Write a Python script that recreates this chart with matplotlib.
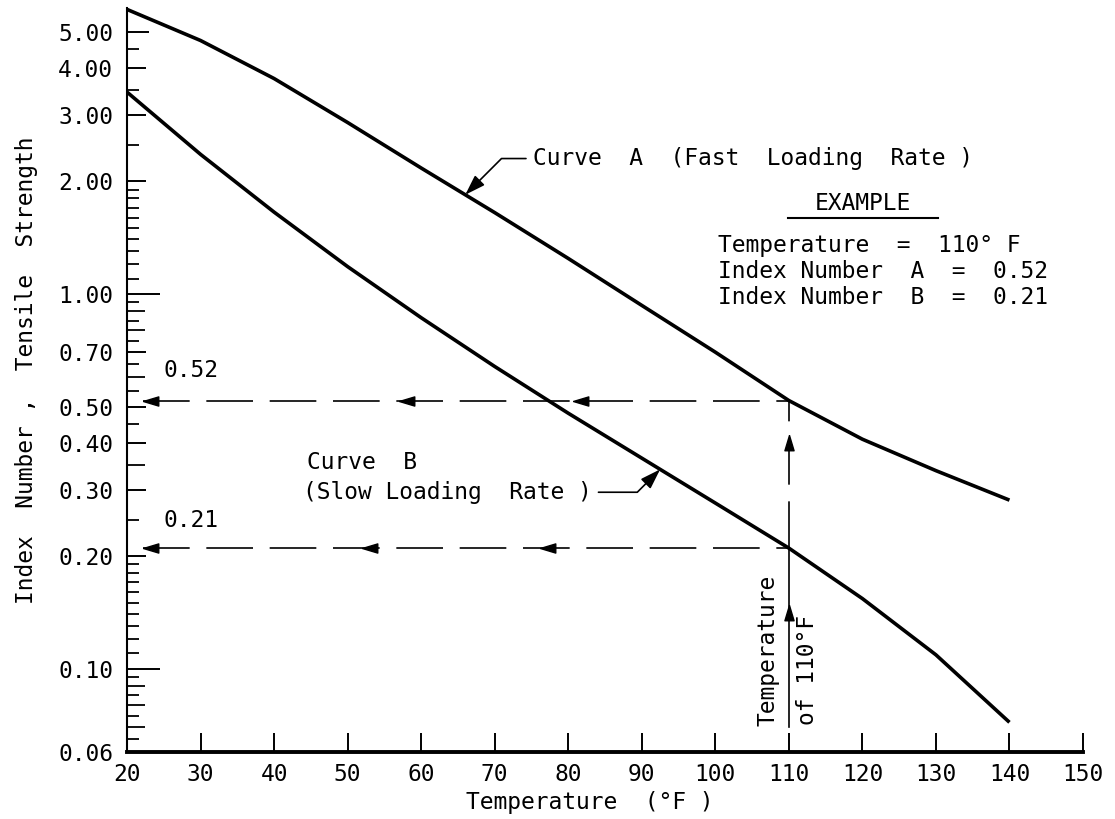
import numpy as np
import matplotlib
matplotlib.use("Agg")
import matplotlib.pyplot as plt
from matplotlib.path import Path
from matplotlib.lines import Line2D
from matplotlib.ticker import FixedLocator, NullFormatter

# 読み取り値（温度 °F / 指数）
temp_a = [20, 30, 40, 50, 60, 70, 80, 90, 100, 110, 120, 130, 140]
index_a = [5.75, 4.75, 3.76, 2.87, 2.17, 1.65, 1.245, 0.933, 0.70, 0.52, 0.41, 0.338, 0.282]
temp_b = [20, 30, 40, 50, 60, 70, 80, 90, 100, 110, 120, 130, 140]
index_b = [3.46, 2.36, 1.655, 1.184, 0.865, 0.641, 0.481, 0.365, 0.277, 0.21, 0.154, 0.109, 0.072]

ex_temp = 110
ex_a = 0.52
ex_b = 0.21
arrows_a = [22.2, 57.0, 80.6]      # 0.52 線上の左向き矢印
arrows_b = [22.2, 52.0, 76.2]      # 0.21 線上の左向き矢印
arrows_up = [0.42, 0.148]          # 110°F 線上の上向き矢印
vline_bottom = 0.07

y_major = [0.06, 0.10, 0.20, 0.30, 0.40, 0.50, 0.70, 1.00, 2.00, 3.00, 4.00, 5.00]
y_minor = [0.065, 0.07, 0.075, 0.08, 0.085, 0.09, 0.095,
           0.11, 0.12, 0.13, 0.14, 0.15, 0.16, 0.17, 0.18, 0.19,
           0.25, 0.35, 0.45, 0.55, 0.60, 0.65,
           0.75, 0.80, 0.85, 0.90, 0.95,
           1.1, 1.2, 1.3, 1.4, 1.5, 1.6, 1.7, 1.8, 1.9,
           2.5, 3.5, 4.5]
y_minor_mid = [0.07, 0.08, 0.09, 0.35, 0.60, 0.80, 0.90]
x_ticks = list(range(20, 151, 10))

# 字間の広いテンプレート文字に寄せて等幅フォント
plt.rcParams["font.family"] = ["DejaVu Sans Mono", "DejaVu Sans"]
FS = 16.5

fig = plt.figure(figsize=(11.15, 8.19), dpi=100)
ax = fig.add_axes([127 / 1115, 67 / 819, 956 / 1115, 744 / 819])
ax.set_yscale("log")
ax.set_xlim(20, 150)
ax.set_ylim(0.06, 5.8)

# 曲線
ax.plot(temp_a, index_a, color="black", lw=2.6, solid_capstyle="butt")
ax.plot(temp_b, index_b, color="black", lw=2.6, solid_capstyle="butt")

# 例の読み取り線
dash = (0, (28, 10))
ax.plot([arrows_a[0], ex_temp], [ex_a, ex_a], color="black", lw=1.2, ls=dash)
ax.plot([arrows_b[0], ex_temp], [ex_b, ex_b], color="black", lw=1.2, ls=dash)
ax.plot([ex_temp, ex_temp], [ex_b, ex_a], color="black", lw=1.2, ls=dash)
ax.plot([ex_temp, ex_temp], [vline_bottom, ex_b], color="black", lw=1.2)

left_head = Path([(0, 0), (2, 0.6), (2, -0.6), (0, 0)])
up_head = Path([(0, 0), (0.6, -2), (-0.6, -2), (0, 0)])
ax.plot(arrows_a, [ex_a] * len(arrows_a), ls="none", marker=left_head,
        ms=22, color="black")
ax.plot(arrows_b, [ex_b] * len(arrows_b), ls="none", marker=left_head,
        ms=22, color="black")
ax.plot([ex_temp] * len(arrows_up), arrows_up, ls="none", marker=up_head,
        ms=22, color="black")

# 軸
for s in ("top", "right"):
    ax.spines[s].set_visible(False)
ax.spines["bottom"].set_linewidth(2.8)
ax.spines["left"].set_linewidth(1.5)

ax.xaxis.set_major_locator(FixedLocator(x_ticks))
ax.set_xticklabels([str(t) for t in x_ticks])
ax.yaxis.set_major_locator(FixedLocator(y_major))
ax.set_yticklabels(["%.2f" % v for v in y_major])
ax.yaxis.set_minor_locator(FixedLocator(y_minor))
ax.yaxis.set_minor_formatter(NullFormatter())
ax.xaxis.set_minor_locator(FixedLocator([]))

ax.tick_params(axis="x", which="major", direction="in", length=14, width=1.4,
               pad=8, labelsize=FS)
ax.tick_params(axis="y", which="major", direction="in", length=14, width=1.4,
               pad=10, labelsize=FS)
ax.tick_params(axis="y", which="minor", direction="in", length=8.5, width=1.3)

ax.set_xlabel("Temperature  (°F )", fontsize=FS)
ax.set_ylabel("Index  Number ,  Tensile  Strength", fontsize=FS)
ax.xaxis.set_label_coords(0.484, -0.052)
ax.yaxis.set_label_coords(-0.093, 0.513)

# 文字・引出線
def interp_log(x, xs, ys):
    return 10 ** np.interp(x, xs, np.log10(ys))

arrow_kw = dict(arrowstyle="-|>,head_length=0.75,head_width=0.25",
                color="black", lw=1.2, shrinkA=3, shrinkB=0,
                connectionstyle="angle,angleA=0,angleB=45,rad=0")
ax.annotate("Curve  A  (Fast  Loading  Rate )",
            xy=(66, interp_log(66, temp_a, index_a)), xytext=(75.2, 2.30),
            fontsize=FS, ha="left", va="center",
            arrowprops=dict(relpos=(0, 0.5), **arrow_kw))
ax.text(44.5, 0.356, "Curve  B", fontsize=FS, ha="left", va="center")
ax.annotate("(Slow Loading  Rate )",
            xy=(92.5, interp_log(92.5, temp_b, index_b)), xytext=(43.9, 0.296),
            fontsize=FS, ha="left", va="center",
            arrowprops=dict(relpos=(1, 0.5), **arrow_kw))

t_ex = ax.text(120.1, 1.75, "EXAMPLE", fontsize=FS, ha="center", va="center")
ax.text(100.4, 1.35, "Temperature  =  110° F", fontsize=FS, ha="left", va="center")
ax.text(100.4, 1.15, "Index Number  A  =  0.52", fontsize=FS, ha="left", va="center")
ax.text(100.4, 0.98, "Index Number  B  =  0.21", fontsize=FS, ha="left", va="center")

ax.text(24.9, 0.626, "0.52", fontsize=FS, ha="left", va="center")
ax.text(24.9, 0.249, "0.21", fontsize=FS, ha="left", va="center")

ax.text(107.2, 0.1122, "Temperature", fontsize=FS, rotation=90,
        ha="center", va="center")
ax.text(112.5, 0.0993, "of 110°F", fontsize=FS, rotation=90,
        ha="center", va="center")

# 目盛り長さを個別に
for tk, v in zip(ax.yaxis.get_major_ticks(), y_major):
    if v in (0.10, 1.00):
        tk.tick1line.set_markersize(24)
    elif v == 5.00:
        tk.tick1line.set_markersize(16)
for tk, v in zip(ax.yaxis.get_minor_ticks(), y_minor):
    if v in y_minor_mid:
        tk.tick1line.set_markersize(13)

# EXAMPLE の下線
fig.canvas.draw()
bb = t_ex.get_window_extent()
fig.add_artist(Line2D([bb.x0 - 27, bb.x1 + 27], [bb.y0 - 3, bb.y0 - 3],
                      transform=None, color="black", lw=1.5))

fig.savefig("out.png", dpi=100)
